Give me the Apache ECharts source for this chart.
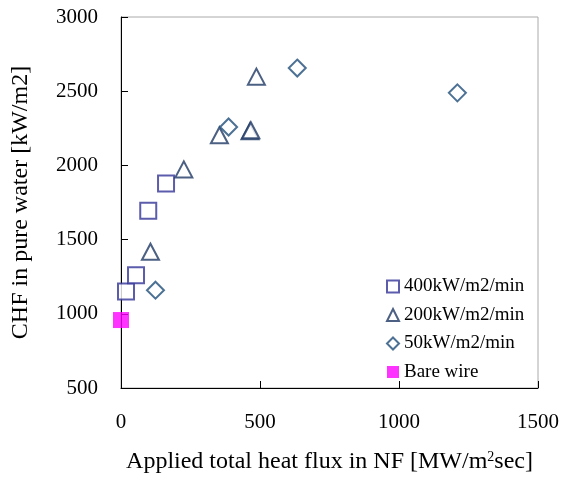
<!DOCTYPE html>
<html>
<head>
<meta charset="utf-8">
<script src="https://cdn.jsdelivr.net/npm/echarts@6/dist/echarts.min.js"></script>
<style>html,body{margin:0;padding:0;background:#fff}#c{width:562px;height:479px}</style>
</head>
<body>
<div id="c"></div>
<script>
// Data
var s400x = [18, 54, 98, 162];
var s400y = [1150, 1259, 1694, 1878];
var s200x = [106, 226, 354, 464, 467, 487];
var s200y = [1418, 1973, 2203, 2230, 2237, 2598];
var s50x = [124, 387, 634, 1210];
var s50y = [1159, 2259, 2656, 2489];
var bareX = [0];
var bareY = [958];
var seriesNames = ['400kW/m2/min', '200kW/m2/min', '50kW/m2/min', 'Bare wire'];
var xTicks = [0, 500, 1000, 1500];
var yTicks = [500, 1000, 1500, 2000, 2500, 3000];

function pairs(xs, ys) { return xs.map(function (x, i) { return [x, ys[i]]; }); }
function plain(v) { return String(v); }

var FONT = 'Liberation Serif';
var chart = echarts.init(document.getElementById('c'), null, { renderer: 'canvas' });
chart.setOption({
  backgroundColor: '#fff',
  animation: false,
  textStyle: { fontFamily: FONT, color: '#000' },
  grid: { left: 121, right: 22, top: 17, bottom: 90, show: true, borderColor: '#aaaaaa', borderWidth: 1 },
  xAxis: {
    type: 'value', min: xTicks[0], max: xTicks[xTicks.length - 1], interval: 500,
    splitLine: { show: false },
    axisLine: { lineStyle: { color: '#000', width: 1 } },
    axisTick: { inside: true, length: 7, lineStyle: { color: '#000' } },
    axisLabel: { fontFamily: FONT, fontSize: 21, color: '#000', margin: 24, formatter: plain },
    name: 'Applied total heat flux in NF [MW/m{sup|2}sec]',
    nameLocation: 'middle', nameGap: 62,
    nameTextStyle: { fontFamily: FONT, fontSize: 24, color: '#000',
      rich: { sup: { fontFamily: FONT, fontSize: 14, color: '#000', padding: [0, 0, 10, 0] } } }
  },
  yAxis: {
    type: 'value', min: yTicks[0], max: yTicks[yTicks.length - 1], interval: 500,
    splitLine: { show: false },
    axisLine: { lineStyle: { color: '#000', width: 1 } },
    axisTick: { inside: true, length: 7, lineStyle: { color: '#000' } },
    axisLabel: { fontFamily: FONT, fontSize: 21, color: '#000', margin: 23, formatter: plain },
    name: 'CHF in pure water [kW/m2]',
    nameLocation: 'middle', nameGap: 88,
    nameTextStyle: { fontFamily: FONT, fontSize: 24, color: '#000' }
  },
  legend: {
    orient: 'vertical', left: 381, top: 272, itemWidth: 12, itemHeight: 12, itemGap: 9.5,
    textStyle: { fontFamily: FONT, fontSize: 19, color: '#000' },
    data: seriesNames
  },
  series: [
    { name: seriesNames[0], type: 'scatter', symbol: 'emptyRect', symbolSize: 16,
      itemStyle: { color: '#333399', borderColor: '#333399', borderWidth: 1.1 },
      data: pairs(s400x, s400y) },
    { name: seriesNames[1], type: 'scatter', symbol: 'emptyTriangle', symbolSize: [17, 16],
      itemStyle: { color: '#1f3864', borderColor: '#1f3864', borderWidth: 1.1 },
      data: pairs(s200x, s200y) },
    { name: seriesNames[2], type: 'scatter', symbol: 'emptyDiamond', symbolSize: 17,
      itemStyle: { color: '#1f4e79', borderColor: '#1f4e79', borderWidth: 1.1 },
      data: pairs(s50x, s50y) },
    { name: seriesNames[3], type: 'scatter', symbol: 'rect', symbolSize: 16,
      itemStyle: { color: '#ff00ff' },
      data: pairs(bareX, bareY) }
  ]
});
</script>
</body>
</html>
